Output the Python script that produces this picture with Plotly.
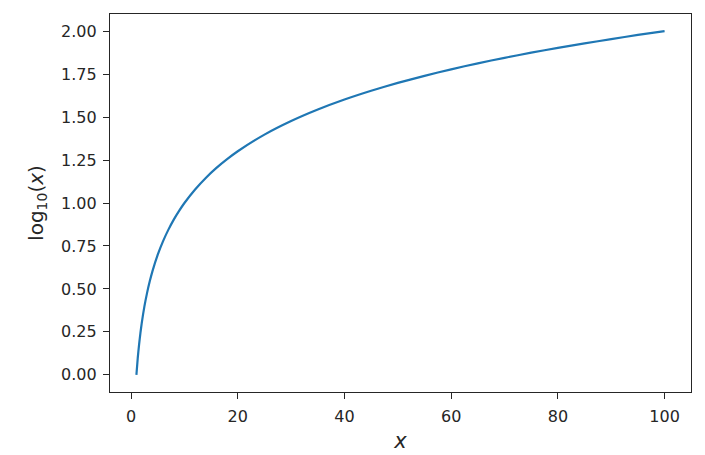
import plotly.graph_objects as go

x_values = [1, 1.25, 1.5, 1.75, 2, 2.5, 3, 3.5, 4, 5, 6, 7, 8, 9, 10, 12, 14, 16, 18, 20, 25, 30, 35, 40, 45, 50, 55, 60, 65, 70, 75, 80, 85, 90, 95, 100]
y_values = [0.0, 0.097, 0.176, 0.243, 0.301, 0.398, 0.477, 0.544, 0.602, 0.699, 0.778, 0.845, 0.903, 0.954, 1.0, 1.079, 1.146, 1.204, 1.255, 1.301, 1.398, 1.477, 1.544, 1.602, 1.653, 1.699, 1.740, 1.778, 1.813, 1.845, 1.875, 1.903, 1.929, 1.954, 1.978, 2.0]
x_ticks = [0, 20, 40, 60, 80, 100]
y_ticks = [0.0, 0.25, 0.5, 0.75, 1.0, 1.25, 1.5, 1.75, 2.0]

fig = go.Figure()
fig.add_trace(go.Scatter(x=x_values, y=y_values, mode="lines",
                         line=dict(color="#1f77b4", width=2.2, shape="spline", smoothing=0.6),
                         showlegend=False, hoverinfo="skip"))

axis_common = dict(showgrid=False, zeroline=False, showline=True, linecolor="#262626",
                   linewidth=1.2, mirror=True, ticks="outside", ticklen=6, tickwidth=1.2,
                   tickcolor="#262626", tickfont=dict(family="DejaVu Sans", size=16, color="#262626"))

fig.update_xaxes(range=[-3.95, 104.95], tickvals=x_ticks, ticktext=[str(v) for v in x_ticks],
                 ticklabelstandoff=4,
                 title=dict(text="<i>x</i>", font=dict(family="DejaVu Sans", size=21, color="#262626"), standoff=8),
                 **axis_common)
fig.update_yaxes(range=[-0.1, 2.1], tickvals=y_ticks, ticktext=[f"{v:.2f}" for v in y_ticks],
                 ticklabelstandoff=3,
                 title=dict(text="log<sub>10</sub>(<i>x</i>)", font=dict(family="DejaVu Sans", size=20, color="#262626"), standoff=12),
                 **axis_common)

fig.update_layout(width=705, height=455, margin=dict(l=102, r=22, t=6, b=71),
                  plot_bgcolor="white", paper_bgcolor="white")

fig.write_html("out.html")
